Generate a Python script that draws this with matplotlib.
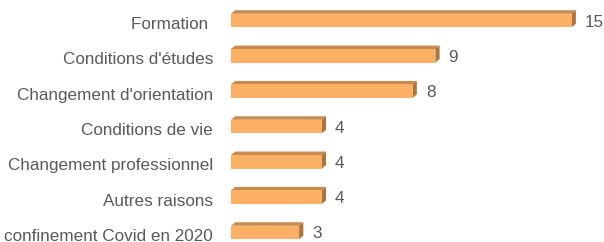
import matplotlib
matplotlib.use("Agg")
import matplotlib.pyplot as plt
from matplotlib.patches import Polygon
from matplotlib import transforms

plt.rcParams['font.family'] = ['Liberation Sans', 'DejaVu Sans']

categories = ["Formation ", "Conditions d'études", "Changement d'orientation",
              "Conditions de vie", "Changement professionnel", "Autres raisons",
              "Premier confinement Covid en 2020"]
values = [15, 9, 8, 4, 4, 4, 3]

front = "#FBB065"
top_col = "#C98A4C"
side_col = "#AD743D"
txt = "#595959"

W, H = 604, 242
fig = plt.figure(figsize=(W / 100, H / 100), dpi=100)
ax = fig.add_axes([231 / W, 0, 1 - 231 / W, 1])

px_x = 22.71   # pixels per unit
px_y = 35.33   # pixels per row
ax.set_xlim(0, (W - 231) / px_x)
ax.set_ylim(6 + (H - 232.5) / px_y, -20.5 / px_y)
ax.axis("off")

h = 13.5 / px_y
dx = 4.2 / px_x
dy = 3.5 / px_y

lab_tr = transforms.offset_copy(ax.transData, fig=fig, x=-18, y=-8.5, units="dots")
val_tr = transforms.offset_copy(ax.transData, fig=fig, x=9, y=0, units="dots")

for i, (cat, v) in enumerate(zip(categories, values)):
    y0 = i - h / 2   # top edge of front face (inverted axis)
    y1 = i + h / 2
    ax.add_patch(Polygon([(0, y0), (v, y0), (v + dx, y0 - dy), (dx, y0 - dy)],
                         closed=True, facecolor=top_col, edgecolor="none"))
    ax.add_patch(Polygon([(v, y0), (v + dx, y0 - dy), (v + dx, y1 - dy), (v, y1)],
                         closed=True, facecolor=side_col, edgecolor="none"))
    ax.barh(i, v, height=h, color=front, edgecolor="none")
    ax.text(0, i, cat, transform=lab_tr, ha="right", va="baseline",
            fontsize=12.3, color=txt, clip_on=False)
    ax.text(v + dx, i, str(v), transform=val_tr, ha="left", va="center_baseline",
            fontsize=12.3, color=txt)

fig.savefig("out.png", dpi=100)
